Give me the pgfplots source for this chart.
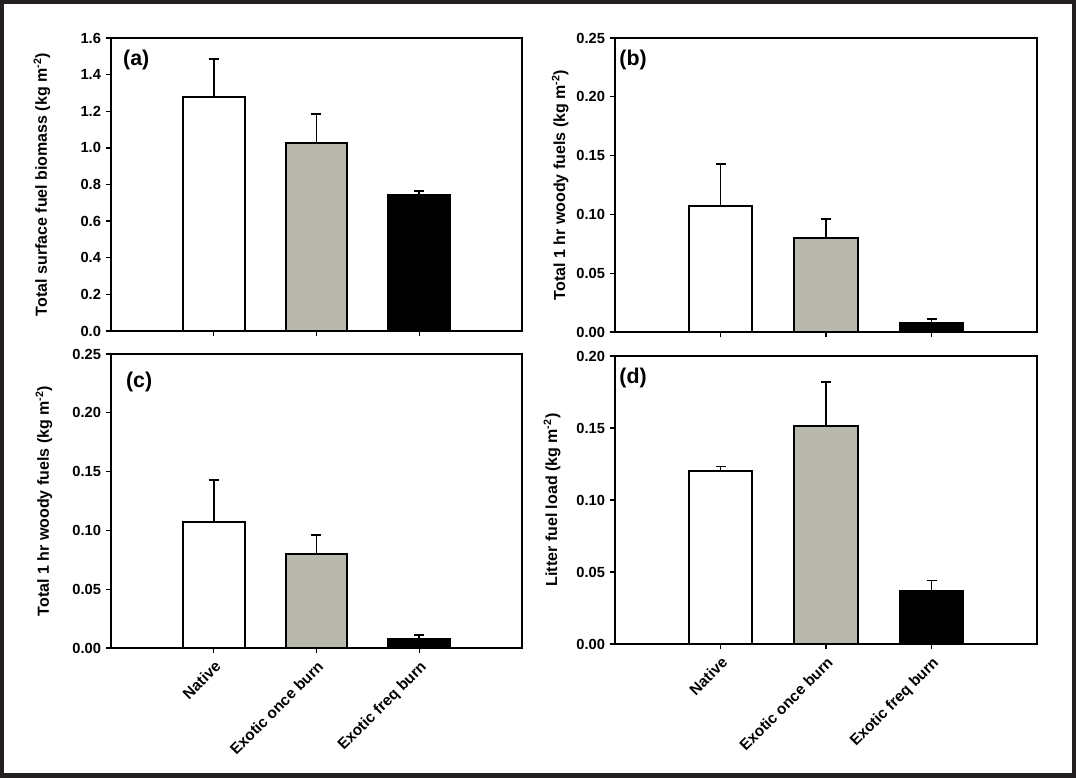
\documentclass[border=0pt]{standalone}
\usepackage{fontspec}
\setmainfont{Liberation Sans}
\usepackage{pgfplots}
\pgfplotsset{compat=1.18}
\definecolor{framec}{RGB}{35,31,32}
\definecolor{bargray}{RGB}{184,184,172}
\tikzset{plab/.style={anchor=north west, inner sep=0pt, font=\fontsize{16}{18}\selectfont\bfseries}}
\pgfplotsset{
  panel/.style={
    scale only axis,
    xmin=-1, xmax=3, ymin=0,
    xtick={0,1,2},
    axis line style={line width=1.1pt, black},
    tick style={line width=1pt, black},
    tick align=outside,
    xtick pos=left, ytick pos=left,
    major tick length=4pt,
    /pgf/number format/assume math mode=true,
    yticklabel style={/pgf/number format/fixed, /pgf/number format/zerofill, font=\fontsize{11}{13}\selectfont\bfseries},
    xticklabel style={rotate=45, anchor=north east, font=\fontsize{11.5}{13}\selectfont\bfseries},
    ylabel style={font=\fontsize{12}{14}\selectfont\bfseries, anchor=center},
    clip=false,
  },
  abar/.style={ybar, bar width=0.6, bar shift=0pt, draw=black, line width=1.5pt,
    error bars/y dir=plus, error bars/y explicit,
    error bars/error bar style={line width=1.3pt, black},
    error bars/error mark options={rotate=90, line width=1.3pt, black, mark size=3.75pt}},
}
\begin{document}
\begin{tikzpicture}
\fill[framec] (0,0) rectangle (807pt,583.5pt);
\fill[white] (3pt,3.75pt) rectangle (804pt,580.5pt);

% (a)
\begin{axis}[panel, at={(83.25pt,335.25pt)}, anchor=south west, width=308.25pt, height=219.75pt,
  ymax=1.6, ytick={0,0.2,0.4,0.6,0.8,1.0,1.2,1.4,1.6},
  yticklabel style={/pgf/number format/precision=1},
  xticklabels={},
  ylabel={Total surface fuel biomass (kg m\textsuperscript{-2})},
  ylabel style={at={(axis description cs:-0.168,0.5)}}]
\addplot[abar, fill=white] coordinates {(0,1.28) +- (0,0.206)};
\addplot[abar, fill=bargray] coordinates {(1,1.028) +- (0,0.157)};
\addplot[abar, fill=black] coordinates {(2,0.741) +- (0,0.024)};
\node[plab] at (rel axis cs:0.029,0.959) {(a)};
\end{axis}

% (b)
\begin{axis}[panel, at={(461.25pt,334.5pt)}, anchor=south west, width=316.5pt, height=220.5pt,
  ymax=0.25, ytick={0,0.05,0.10,0.15,0.20,0.25},
  yticklabel style={/pgf/number format/precision=2},
  xticklabels={},
  ylabel={Total 1 hr woody fuels (kg m\textsuperscript{-2})},
  ylabel style={at={(axis description cs:-0.130,0.5)}}]
\addplot[abar, fill=white] coordinates {(0,0.107) +- (0,0.036)};
\addplot[abar, fill=bargray] coordinates {(1,0.0797) +- (0,0.0166)};
\addplot[abar, fill=black] coordinates {(2,0.0079) +- (0,0.0029)};
\node[plab] at (rel axis cs:0.01,0.959) {(b)};
\end{axis}

% (c)
\begin{axis}[panel, at={(83.25pt,97.5pt)}, anchor=south west, width=308.25pt, height=220.5pt,
  ymax=0.25, ytick={0,0.05,0.10,0.15,0.20,0.25},
  yticklabel style={/pgf/number format/precision=2},
  xticklabels={Native, Exotic once burn, Exotic freq burn},
  ylabel={Total 1 hr woody fuels (kg m\textsuperscript{-2})},
  ylabel style={at={(axis description cs:-0.163,0.5)}}]
\addplot[abar, fill=white] coordinates {(0,0.107) +- (0,0.036)};
\addplot[abar, fill=bargray] coordinates {(1,0.0797) +- (0,0.0166)};
\addplot[abar, fill=black] coordinates {(2,0.0079) +- (0,0.0029)};
\node[plab] at (rel axis cs:0.036,0.939) {(c)};
\end{axis}

% (d)
\begin{axis}[panel, at={(461.25pt,100.5pt)}, anchor=south west, width=316.5pt, height=216pt,
  ymax=0.20, ytick={0,0.05,0.10,0.15,0.20},
  yticklabel style={/pgf/number format/precision=2},
  xticklabels={Native, Exotic once burn, Exotic freq burn},
  ylabel={Litter fuel load (kg m\textsuperscript{-2})},
  ylabel style={at={(axis description cs:-0.149,0.5)}}]
\addplot[abar, fill=white] coordinates {(0,0.1201) +- (0,0.0032)};
\addplot[abar, fill=bargray] coordinates {(1,0.1517) +- (0,0.030)};
\addplot[abar, fill=black] coordinates {(2,0.0369) +- (0,0.0072)};
\node[plab] at (rel axis cs:0.01,0.958) {(d)};
\end{axis}
\end{tikzpicture}
\end{document}
